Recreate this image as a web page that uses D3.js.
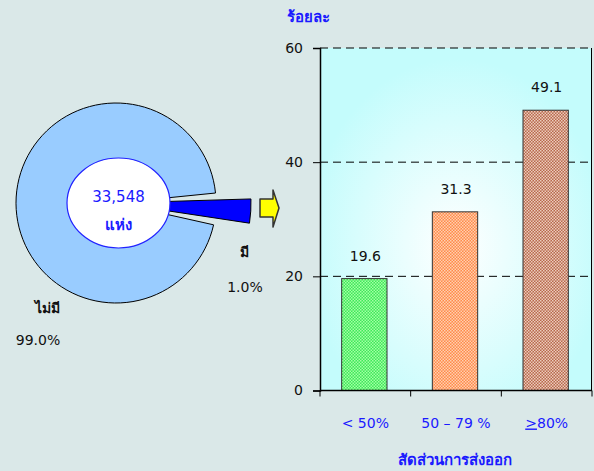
<!DOCTYPE html>
<html>
<head>
<meta charset="utf-8">
<script src="https://cdn.jsdelivr.net/npm/d3@7"></script>
<style>
  body { margin: 0; background: #dae8e8; }
  svg { display: block; font-family: Tahoma, "DejaVu Sans", "Noto Sans", sans-serif; }
</style>
</head>
<body>
<div id="chart"></div>
<script>
// bar chart data
const categories = ["< 50%", "50 – 79 %", "≥80%"];
const shares = [19.6, 31.3, 49.1];
const yTicks = [0, 20, 40, 60];

// pie data
const pieLabels = ["ไม่มี", "มี"];
const pieValues = [99.0, 1.0];
const totalCount = "33,548";
const totalUnit = "แห่ง";

const W = 594, H = 471;
const svg = d3.select("#chart").append("svg").attr("width", W).attr("height", H);
const defs = svg.append("defs");

// plot background gradient
const grad = defs.append("radialGradient").attr("id", "bg")
  .attr("cx", "50%").attr("cy", "58%").attr("r", "55%");
grad.append("stop").attr("offset", "0%").attr("stop-color", "#ffffff");
grad.append("stop").attr("offset", "100%").attr("stop-color", "#c4fcfc");

// checker patterns for bars
const patColors = [["#3ee85a", "#a4ffa4"], ["#ff8a4a", "#ffd0b0"], ["#b8684c", "#ecccbc"]];
patColors.forEach((c, i) => {
  const p = defs.append("pattern").attr("id", "pat" + i)
    .attr("width", 3).attr("height", 3).attr("patternUnits", "userSpaceOnUse");
  p.append("rect").attr("width", 3).attr("height", 3).attr("fill", c[0]);
  p.append("rect").attr("width", 1.5).attr("height", 1.5).attr("fill", c[1]);
  p.append("rect").attr("x", 1.5).attr("y", 1.5).attr("width", 1.5).attr("height", 1.5).attr("fill", c[1]);
});

// ---------- bar chart ----------
const pLeft = 320, pRight = 592, pTop = 48, pBottom = 390.5;
const x = d3.scaleBand().domain(categories).range([pLeft, pRight]).paddingInner(0.5).paddingOuter(0.25);
const y = d3.scaleLinear().domain([0, 60]).range([pBottom, pTop]);

svg.append("rect").attr("x", pLeft).attr("y", pTop)
  .attr("width", pRight - pLeft).attr("height", pBottom - pTop).attr("fill", "url(#bg)");

// gridlines
svg.append("g").selectAll("line").data(yTicks.filter(d => d > 0)).join("line")
  .attr("x1", pLeft).attr("x2", pRight)
  .attr("y1", d => y(d)).attr("y2", d => y(d))
  .attr("stroke", "#000").attr("stroke-width", 1).attr("stroke-dasharray", "8,5");

// right border
svg.append("line").attr("x1", pRight - 0.5).attr("x2", pRight - 0.5)
  .attr("y1", pTop).attr("y2", pBottom).attr("stroke", "#000");

// bars
svg.append("g").selectAll("rect").data(shares).join("rect")
  .attr("x", (d, i) => x(categories[i]) - 1)
  .attr("y", d => y(d))
  .attr("width", x.bandwidth())
  .attr("height", d => pBottom - y(d))
  .attr("fill", (d, i) => `url(#pat${i})`)
  .attr("stroke", "#333").attr("stroke-width", 1);

// value labels
svg.append("g").selectAll("text").data(shares).join("text")
  .attr("x", (d, i) => x(categories[i]) + x.bandwidth() / 2)
  .attr("y", d => y(d) - 18)
  .attr("text-anchor", "middle").attr("font-size", 14).attr("fill", "#111")
  .text(d => d.toFixed(1));

// y axis
const yAxis = svg.append("g").attr("transform", `translate(${pLeft},0)`)
  .call(d3.axisLeft(y).tickValues(yTicks).tickSize(7).tickPadding(10));
yAxis.select(".domain").attr("stroke", "#000").attr("stroke-width", 1.5);
yAxis.selectAll("text").attr("font-size", 14).attr("fill", "#111")
  .attr("font-family", "Tahoma, 'DejaVu Sans', sans-serif");

// x axis
const xAxis = svg.append("g").attr("transform", `translate(0,${pBottom})`);
xAxis.append("line").attr("x1", pLeft).attr("x2", pRight).attr("stroke", "#000").attr("stroke-width", 1.5);
const bandStep = (pRight - pLeft) / categories.length;
xAxis.selectAll(".tk").data(d3.range(categories.length + 1)).join("line")
  .attr("x1", i => pLeft + i * bandStep).attr("x2", i => pLeft + i * bandStep)
  .attr("y1", 0).attr("y2", 6).attr("stroke", "#000");
const xl = xAxis.selectAll(".xl").data(categories).join("text")
  .attr("x", d => x(d) + x.bandwidth() / 2)
  .attr("y", 37).attr("text-anchor", "middle")
  .attr("font-size", 14).attr("fill", "#1a1aff");
xl.each(function(d) {
  const t = d3.select(this);
  if (d.startsWith("≥")) {
    t.append("tspan").attr("text-decoration", "underline").text(">");
    t.append("tspan").text(d.slice(1));
  } else t.text(d);
});

svg.append("text").attr("x", 287).attr("y", 22).attr("font-size", 15)
  .attr("font-weight", "bold").attr("fill", "#1a1aff").text("ร้อยละ");
svg.append("text").attr("x", 455).attr("y", 465).attr("text-anchor", "middle")
  .attr("font-size", 15).attr("font-weight", "bold").attr("fill", "#1a1aff").text("สัดส่วนการส่งออก");

// ---------- pie ----------
const cx = 116, cy = 203, R = 100;
const minAngle = 0.18; // small slice widened so it can be seen
const pieArcs = d3.pie().sort(null)(pieValues);
const smallAng = Math.max(pieArcs[1].endAngle - pieArcs[1].startAngle, minAngle);
const mid = Math.PI / 2 + 0.06;
const gap = 0.14;
const bigArc = d3.arc().innerRadius(0).outerRadius(R)
  .startAngle(mid + smallAng / 2 + gap / 2)
  .endAngle(mid - smallAng / 2 - gap / 2 + 2 * Math.PI);
const smallArc = d3.arc().innerRadius(0).outerRadius(135)
  .startAngle(mid - smallAng / 2).endAngle(mid + smallAng / 2);

const pg = svg.append("g").attr("transform", `translate(${cx},${cy})`);
pg.append("path").attr("d", bigArc()).attr("fill", "#99ccff").attr("stroke", "#000").attr("stroke-width", 1);
pg.append("path").attr("d", smallArc()).attr("fill", "#0000ff").attr("stroke", "#000").attr("stroke-width", 1);
pg.append("ellipse").attr("cx", 2.5).attr("cy", 0).attr("rx", 51.5).attr("ry", 45)
  .attr("fill", "#fff").attr("stroke", "#2222ff").attr("stroke-width", 1.2);
pg.append("text").attr("x", 2.5).attr("y", -1).attr("text-anchor", "middle")
  .attr("font-size", 15).attr("fill", "#1a1aff").text(totalCount);
pg.append("text").attr("x", 2.5).attr("y", 27).attr("text-anchor", "middle")
  .attr("font-size", 15).attr("font-weight", "bold").attr("fill", "#1a1aff").text(totalUnit);

// arrow
svg.append("path")
  .attr("d", "M260,199 L273,199 L273,190 L279,208 L273,227 L273,217 L260,217 Z")
  .attr("fill", "#ffff00").attr("stroke", "#333").attr("stroke-width", 1.5).attr("stroke-linejoin", "round");

// pie labels
const pieLabelPos = [[35, 313, 38, 345], [240, 257, 245, 292]];
pieLabels.forEach((lab, i) => {
  svg.append("text").attr("x", pieLabelPos[i][0]).attr("y", pieLabelPos[i][1])
    .attr("font-size", 14).attr("font-weight", "bold").attr("fill", "#111").text(lab);
  svg.append("text").attr("x", pieLabelPos[i][2]).attr("y", pieLabelPos[i][3])
    .attr("text-anchor", "middle").attr("font-size", 14).attr("fill", "#111")
    .text(pieValues[i].toFixed(1) + "%");
});
</script>
</body>
</html>
